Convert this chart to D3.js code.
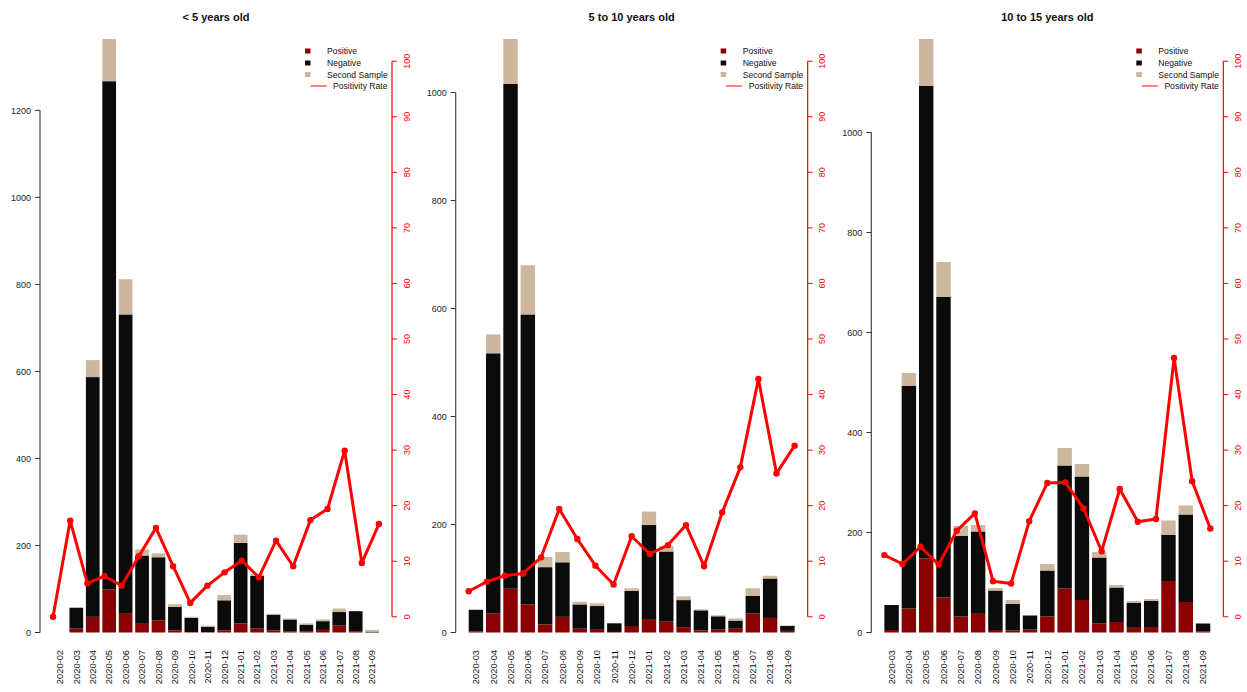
<!DOCTYPE html>
<html><head><meta charset="utf-8">
<script src="https://cdn.jsdelivr.net/npm/d3@7"></script>
<style>body{margin:0;background:#fff} svg{font-family:"Liberation Sans",Arial,sans-serif}</style>
</head><body>
<svg id="c" width="1247" height="692"></svg>
<script>
// ---- data ----
const monthsA = ["2020-02","2020-03","2020-04","2020-05","2020-06","2020-07","2020-08","2020-09","2020-10","2020-11","2020-12","2021-01","2021-02","2021-03","2021-04","2021-05","2021-06","2021-07","2021-08","2021-09"];
const monthsB = monthsA.slice(1);

const pos1  = [0, 9, 36, 99, 43, 20, 28, 5, 1, 1, 5, 21, 9, 5, 2, 3, 6, 16, 3, 0];
const neg1  = [0, 48, 551, 1168, 688, 157, 145, 54, 33, 12, 69, 185, 121, 36, 28, 15, 20, 31, 46, 2];
const sec1  = [0, 1, 39, 130, 81, 14, 9, 6, 2, 3, 12, 19, 5, 2, 2, 3, 4, 8, 0, 4];
const rate1 = [0, 17.3, 6.0, 7.3, 5.6, 10.9, 16.0, 9.1, 2.5, 5.6, 8.0, 10.1, 7.1, 13.7, 9.1, 17.4, 19.4, 29.9, 9.7, 16.7];

const pos2  = [2, 35, 81, 52, 15, 29, 7, 5, 1, 12, 25, 20, 10, 4, 6, 7, 35, 27, 3];
const neg2  = [40, 482, 935, 537, 106, 101, 45, 44, 16, 65, 174, 130, 50, 37, 24, 15, 33, 73, 9];
const sec2  = [1, 35, 120, 91, 19, 19, 5, 5, 0, 5, 25, 10, 7, 2, 2, 4, 14, 5, 1];
const rate2 = [4.6, 6.3, 7.4, 7.8, 10.7, 19.4, 14.0, 9.2, 5.8, 14.5, 11.3, 12.9, 16.5, 9.1, 18.8, 26.9, 42.8, 25.8, 30.8];

const pos3  = [5, 48, 148, 70, 32, 39, 5, 4, 6, 32, 88, 65, 18, 21, 11, 11, 103, 61, 2];
const neg3  = [50, 445, 945, 601, 161, 163, 79, 53, 28, 92, 246, 247, 132, 69, 48, 52, 92, 175, 16];
const sec3  = [0, 26, 130, 70, 20, 13, 5, 8, 0, 13, 35, 25, 11, 5, 4, 4, 29, 18, 0];
const rate3 = [11.1, 9.5, 12.6, 9.4, 15.5, 18.6, 6.4, 6.0, 17.2, 24.1, 24.2, 19.5, 11.8, 23.0, 17.1, 17.6, 46.6, 24.4, 15.9];

const titles = ["< 5 years old", "5 to 10 years old", "10 to 15 years old"];
const leftTicks1 = [0, 200, 400, 600, 800, 1000, 1200];
const leftTicks2 = [0, 200, 400, 600, 800, 1000];
const leftTicks3 = [0, 200, 400, 600, 800, 1000];
const rateTicks = [0, 10, 20, 30, 40, 50, 60, 70, 80, 90, 100];
const legendLabels = ["Positive", "Negative", "Second Sample", "Positivity Rate"];

const colors = {pos: "#8B0000", neg: "#0B0B0B", sec: "#CDB79E", rate: "#FF0000"};

const panels = [
  {months: monthsA, pos: pos1, neg: neg1, sec: sec1, rate: rate1, ticks: leftTicks1, yTop: 1364},
  {months: monthsB, pos: pos2, neg: neg2, sec: sec2, rate: rate2, ticks: leftTicks2, yTop: 1099},
  {months: monthsB, pos: pos3, neg: neg3, sec: sec3, rate: rate3, ticks: leftTicks3, yTop: 1187}
];

const svg = d3.select("#c");
const W = 1247, panelW = W / 3;
const mLeft = 40, plotW = 352, plotTop = 39, plotBot = 639, zeroY = 632.5;

panels.forEach((p, k) => {
  const L = k * panelW + mLeft, R = L + plotW;
  const n = p.months.length;
  const g = svg.append("g");

  const cid = "clip" + k;
  svg.append("clipPath").attr("id", cid).append("rect")
    .attr("x", L).attr("y", plotTop).attr("width", plotW).attr("height", plotBot - plotTop);

  const bx0 = 0.2, bx1 = 1.2 * n, bext = 0.04 * (bx1 - bx0);
  const xb = d3.scaleLinear().domain([bx0 - bext, bx1 + bext]).range([L, R]);
  const lext = 0.04 * (n - 1);
  const xl = d3.scaleLinear().domain([1 - lext, n + lext]).range([L, R]);
  const y = d3.scaleLinear().domain([0, p.yTop]).range([zeroY, plotTop]);
  const yr = d3.scaleLinear().domain([-4, 104]).range([plotBot, plotTop]);

  const data = p.months.map((m, i) => ({m, i, pos: p.pos[i], neg: p.neg[i], sec: p.sec[i], rate: p.rate[i]}));

  const bars = g.append("g").attr("clip-path", `url(#${cid})`);
  const segs = [];
  data.forEach(d => {
    segs.push({i: d.i, y0: 0, y1: d.pos, c: colors.pos});
    segs.push({i: d.i, y0: d.pos, y1: d.pos + d.neg, c: colors.neg});
    segs.push({i: d.i, y0: d.pos + d.neg, y1: d.pos + d.neg + d.sec, c: colors.sec});
  });
  bars.selectAll("rect").data(segs.filter(s => s.y1 > s.y0)).join("rect")
    .attr("x", s => xb(0.2 + 1.2 * s.i))
    .attr("width", s => xb(1.2) - xb(0.2))
    .attr("y", s => y(s.y1))
    .attr("height", s => y(s.y0) - y(s.y1))
    .attr("fill", s => s.c);

  g.append("g").selectAll("text").data(data).join("text")
    .attr("transform", d => `translate(${xb(0.7 + 1.2 * d.i) + 3.3},650) rotate(-90)`)
    .attr("text-anchor", "end")
    .attr("font-size", 9.3).attr("fill", "#111")
    .text(d => d.m);

  const la = g.append("g");
  la.append("line").attr("x1", L).attr("x2", L)
    .attr("y1", y(0)).attr("y2", y(d3.max(p.ticks)))
    .attr("stroke", "#555").attr("stroke-width", 1.3);
  la.selectAll("line.t").data(p.ticks).join("line").attr("class", "t")
    .attr("x1", L - 5).attr("x2", L).attr("y1", d => y(d)).attr("y2", d => y(d))
    .attr("stroke", "#333");
  la.selectAll("text").data(p.ticks).join("text")
    .attr("x", L - 9).attr("y", d => y(d) + 3.2)
    .attr("text-anchor", "end").attr("font-size", 9).attr("fill", "#222")
    .text(d => d);

  const ra = g.append("g");
  ra.append("line").attr("x1", R).attr("x2", R)
    .attr("y1", yr(0)).attr("y2", yr(100))
    .attr("stroke", colors.rate).attr("stroke-width", 1.2);
  ra.selectAll("line.t").data(rateTicks).join("line").attr("class", "t")
    .attr("x1", R).attr("x2", R + 5).attr("y1", d => yr(d)).attr("y2", d => yr(d))
    .attr("stroke", colors.rate);
  ra.selectAll("text").data(rateTicks).join("text")
    .attr("transform", d => `translate(${R + 17.5},${yr(d)}) rotate(-90)`)
    .attr("text-anchor", "middle").attr("font-size", 9).attr("fill", colors.rate)
    .text(d => d);

  const line = d3.line().x(d => xl(d.i + 1)).y(d => yr(d.rate));
  g.append("path").datum(data).attr("d", line)
    .attr("fill", "none").attr("stroke", colors.rate).attr("stroke-width", 3)
    .attr("stroke-linejoin", "round");
  g.append("g").selectAll("circle").data(data).join("circle")
    .attr("cx", d => xl(d.i + 1)).attr("cy", d => yr(d.rate)).attr("r", 3.2)
    .attr("fill", colors.rate);

  g.append("text").attr("x", (L + R) / 2).attr("y", 21)
    .attr("text-anchor", "middle").attr("font-size", 11).attr("font-weight", "bold")
    .attr("fill", "#111").text(titles[k]);

  const lg = g.append("g");
  const rowsY = [51, 63, 74.5, 86];
  [colors.pos, colors.neg, colors.sec].forEach((c, j) => {
    lg.append("rect").attr("x", L + 265).attr("y", rowsY[j] - 2.5).attr("width", 5.5).attr("height", 5)
      .attr("fill", c);
    lg.append("text").attr("x", L + 287).attr("y", rowsY[j] + 3.1)
      .attr("font-size", 8.6).attr("fill", "#111").text(legendLabels[j]);
  });
  lg.append("line").attr("x1", L + 270.5).attr("x2", L + 286.5)
    .attr("y1", rowsY[3]).attr("y2", rowsY[3]).attr("stroke", colors.rate).attr("stroke-width", 1);
  lg.append("text").attr("x", L + 347.5).attr("y", rowsY[3] + 3.1)
    .attr("text-anchor", "end").attr("font-size", 8.6).attr("fill", "#111").text(legendLabels[3]);
});
</script>
</body></html>
